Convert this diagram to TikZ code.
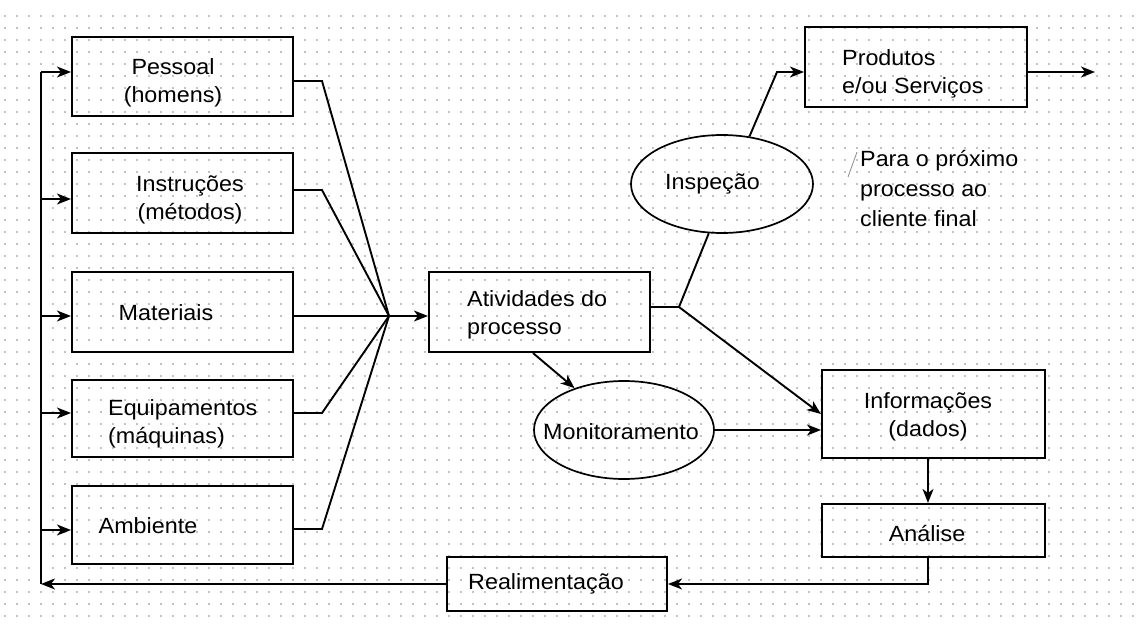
\documentclass[tikz,border=0pt]{standalone}
\usepackage{fontspec}
\setmainfont{Liberation Sans}[FakeStretch=1.06]
\usetikzlibrary{arrows.meta,shapes.geometric}

\tikzset{
  box/.style={draw, line width=2.1pt, minimum width=221pt, minimum height=79pt, inner sep=0pt},
  oval/.style={ellipse, draw, line width=1.7pt, minimum width=181pt, minimum height=98pt, inner sep=0pt},
  txt/.style={font=\fontsize{22}{28}\selectfont, inner sep=0pt, align=center},
  txtl/.style={txt, align=left, anchor=west},
  link/.style={line width=1.9pt},
  arr/.style={link, -{Stealth[length=14pt,width=11pt,inset=4pt]}},
  dotrow/.style={draw=black!24, line width=1.6pt, dash pattern=on 1.6pt off 10.4pt},
}

\begin{document}
\begin{tikzpicture}[x=1pt,y=-1pt]
% page and dotted grid, one dashed row per line of dots
\fill[white] (0,0) rectangle (1144,624);
\useasboundingbox (0,0) rectangle (1144,624);
\foreach \j in {0,...,50} {\draw[dotrow] (4.2,16+12*\j) -- (1144,16+12*\j);}

% input boxes
\node[box, minimum height=79pt] (pessoal) at (182.5,76.5) {};
\node[box, minimum height=80pt] (instr)   at (182.5,193)  {};
\node[box, minimum height=80pt] (mater)   at (182.5,312)  {};
\node[box, minimum height=77pt] (equip)   at (182.5,418.5) {};
\node[box, minimum height=78pt] (amb)     at (182.5,525)  {};

\node[txt] (pessoal-t) at (173,83)  {Pessoal\\(homens)};
\node[txt] (instr-t)   at (190,200) {Instruções\\(métodos)};
\node[txt] (mater-t)   at (166,313) {Materiais};
\node[txtl] (equip-t)  at (108,424) {Equipamentos\\(máquinas)};
\node[txt] (amb-t)     at (148,526) {Ambiente};

% process and outputs
\node[box, minimum height=80pt] (atv) at (539.5,312) {};
\node[txtl] (atv-t) at (467,315) {Atividades do\\processo};

\node[box, minimum width=222pt, minimum height=80pt] (prod) at (916,67) {};
\node[txtl] (prod-t) at (842,74) {Produtos\\e/ou Serviços};

\node[oval, minimum width=182pt, minimum height=98pt] (insp) at (722,184) {};
\node[txt] (insp-t) at (712.5,184) {Inspeção};

\node[txtl, font=\fontsize{22}{30}\selectfont] (note-t) at (860,189) {Para o próximo\\processo ao\\cliente final};

\node[oval, minimum width=180pt, minimum height=98pt] (mon) at (624,430) {};
\node[txt] (mon-t) at (621,432) {Monitoramento};

\node[box, minimum width=223pt, minimum height=88pt] (info) at (933.5,414) {};
\node[txt] (info-t) at (928,417) {Informações\\(dados)};

\node[box, minimum width=223pt, minimum height=53pt] (ana) at (933.5,530.5) {};
\node[txt] (ana-t) at (927,534) {Análise};

\node[box, minimum width=220pt, minimum height=54pt] (real) at (557,584) {};
\node[txt] (real-t) at (546,584) {Realimentação};

% junction points
\coordinate (hub) at (389,316);
\coordinate (b1) at (322,81);
\coordinate (b2) at (322,190);
\coordinate (b4) at (322,413);
\coordinate (b5) at (322,529);
\coordinate (split) at (679,307);
\coordinate (corner) at (777,72);
\coordinate (out) at (1095,72);
\coordinate (fbtop) at (41,72);
\coordinate (fbbot) at (41,584);
\coordinate (f2) at (41,199);
\coordinate (f3) at (41,316);
\coordinate (f4) at (41,413);
\coordinate (f5) at (41,530);
\coordinate (s1) at (848,177);
\coordinate (s2) at (857,152);

% inputs converge on the process
\draw[link] (pessoal.east |- b1) -- (b1) -- (hub);
\draw[link] (instr.east |- b2) -- (b2) -- (hub);
\draw[link] (mater.east |- hub) -- (hub);
\draw[link] (equip.east |- b4) -- (b4) -- (hub);
\draw[link] (amb.east |- b5) -- (b5) -- (hub);
\draw[arr] (hub) -- (hub -| atv.west);

% process outputs
\draw[link] (atv.east |- split) -- (split);
\draw[link] (split) -- (insp.255);
\draw[arr] (insp.60) -- (corner) -- (corner -| prod.west);
\draw[arr] (prod.east |- out) -- (out);
\draw[arr] (split) -- (info.west);
\draw[arr] ([xshift=-6.5pt]atv.south) -- (mon);
\draw[arr] (mon.east) -- (mon.east -| info.west);
\draw[arr] ([xshift=-5.5pt]info.south) -- ([xshift=-5.5pt]ana.north);
\draw[arr] ([xshift=-5.5pt]ana.south) |- (real.east);

% feedback loop
\draw[arr] (real.west) -- (fbbot);
\draw[link] (fbbot) -- (fbtop);
\draw[arr] (fbtop) -- (fbtop -| pessoal.west);
\draw[arr] (f2) -- (f2 -| instr.west);
\draw[arr] (f3) -- (f3 -| mater.west);
\draw[arr] (f4) -- (f4 -| equip.west);
\draw[arr] (f5) -- (f5 -| amb.west);

% small pen stroke beside the note
\draw[black!45, line width=0.8pt] (s1) -- (s2);
\end{tikzpicture}
\end{document}
